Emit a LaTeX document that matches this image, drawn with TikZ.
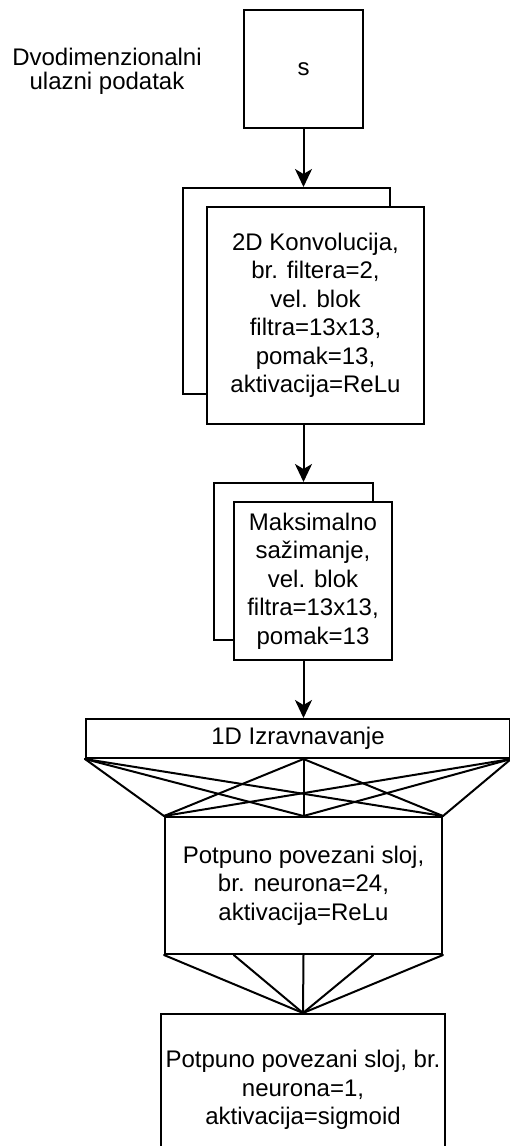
\documentclass[tikz,border=0pt]{standalone}
\usepackage{fontspec}
\setmainfont{Liberation Sans}
\usepackage{tikz}
\usetikzlibrary{calc}
\usetikzlibrary{arrows.meta}
\def\lineThickness{(2pt)}
\def\fScale{\fontsize{24}{28.5}\selectfont}
\def\lScale{\fontsize{24}{24}\selectfont}
\def\tipLen{18pt}
\tikzset{blk/.style={draw=black,fill=white,line width=\lineThickness,rectangle,inner sep=0,align=center,font=\fScale}}
\tikzset{con/.style={black,line width=\lineThickness,line cap=round}}
\tikzset{arr/.style={black,line width=\lineThickness,-{Stealth[length=\tipLen,width=17pt,inset=5pt]}}}

\begin{document}
\begin{tikzpicture}[x=1pt,y=-1pt]\useasboundingbox (0,0) rectangle (510,1146);
\node[font=\lScale,align=center] (lbl) at (107,71) {Dvodimenzionalni\\ulazni podatak};
\node[blk,minimum width=119,minimum height=118] (s) at (303.5,69) {s};
\node[blk,minimum width=207,minimum height=206] (convback) at (286.5,291) {};
\node[blk,minimum width=217,minimum height=217] (convfront) at (315.5,315.5) {2D Konvolucija,\\br. filtera=2,\\vel. blok\\filtra=13x13,\\pomak=13,\\aktivacija=ReLu};
\node[blk,minimum width=159,minimum height=157] (poolback) at (293.5,561.5) {};
\node[blk,minimum width=158,minimum height=158] (poolfront) at (313,581) {Maksimalno\\sažimanje,\\vel. blok\\filtra=13x13,\\pomak=13};
\node[blk,minimum width=424,minimum height=39] (flat) at (298,738.5) {1D Izravnavanje};
\node[blk,minimum width=277,minimum height=137] (fc1) at (303.5,885.5) {Potpuno povezani sloj,\\br. neurona=24,\\aktivacija=ReLu};
\node[blk,minimum width=284,minimum height=152] (fc2) at (303,1090) {Potpuno povezani sloj, br.\\neurona=1,\\aktivacija=sigmoid};
\draw[arr] (s.south)--(s.south |- convback.north);
\draw[arr] (s.south |- convfront.south)--(s.south |- poolback.north);
\draw[arr] (s.south |- poolfront.south)--(s.south |- flat.north);
\coordinate (fm) at (fc1.north |- flat.south);
\foreach\u in {flat.south west,fm,flat.south east}{\foreach\v in {fc1.north west,fc1.north,fc1.north east}{\draw[con] (\u)--(\v);};};
\foreach\f in {0,0.25,0.5,0.75,1}{\draw[con] ($(fc1.south west)!\f!(fc1.south east)$)--(fc2.north);};
\end{tikzpicture}
\end{document}
